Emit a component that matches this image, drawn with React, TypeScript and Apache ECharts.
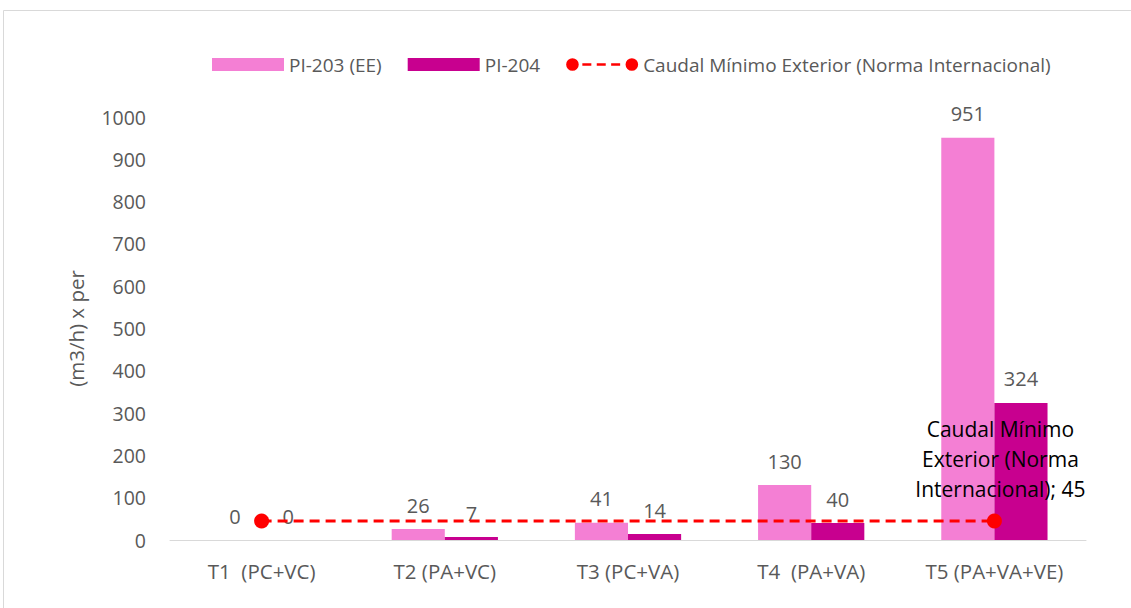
import React, { useEffect, useRef } from "react";
import * as echarts from "echarts";

const categories = ["T1  (PC+VC)", "T2 (PA+VC)", "T3 (PC+VA)", "T4  (PA+VA)", "T5 (PA+VA+VE)"];
const pi203 = [0, 26, 41, 130, 951];
const pi204 = [0, 7, 14, 40, 324];
const caudalMin = [45, 45, 45, 45, 45];
const seriesNames = ["PI-203 (EE)", "PI-204", "Caudal Mínimo Exterior (Norma Internacional)"];
const yAxisName = "(m3/h) x per";

const FONT = "'Open Sans', 'Noto Sans', sans-serif";
const GREY = "#595959";
const PINK = "#F47FD4";
const PURPLE = "#C8008F";
const RED = "#FF0000";

const legendLineIcon =
  "path://M0,7 A7,7 0 1,0 14,7 A7,7 0 1,0 0,7 Z M18,5.5 h10 v3 h-10 Z M34,5.5 h10 v3 h-10 Z M50,5.5 h10 v3 h-10 Z M66,7 A7,7 0 1,0 80,7 A7,7 0 1,0 66,7 Z";

export default function App() {
  const ref = useRef<HTMLDivElement>(null);
  useEffect(() => {
    const chart = echarts.init(ref.current!, null, { renderer: "svg" });
    const last = caudalMin.length - 1;
    chart.setOption({
      animation: false,
      backgroundColor: "#ffffff",
      textStyle: { fontFamily: FONT },
      graphic: [
        {
          type: "rect",
          shape: { x: 3.5, y: 10.5, width: 1140, height: 620 },
          style: { fill: "none", stroke: "#d9d9d9", lineWidth: 1 },
          silent: true,
        },
      ],
      legend: {
        left: 207,
        top: 50,
        itemGap: 26,
        itemWidth: 72,
        itemHeight: 13,
        textStyle: { color: GREY, fontSize: 19, fontFamily: FONT },
        data: [
          { name: seriesNames[0], icon: "rect" },
          { name: seriesNames[1], icon: "rect" },
          { name: seriesNames[2], icon: legendLineIcon, itemStyle: { color: RED } },
        ],
      },
      grid: { left: 170, right: 45, top: 117, bottom: 68, containLabel: false },
      xAxis: {
        type: "category",
        data: categories,
        axisLine: { show: true, lineStyle: { color: "#d9d9d9", width: 1 } },
        axisTick: { show: false },
        axisLabel: { color: GREY, fontSize: 20.5, margin: 20, fontFamily: FONT },
      },
      yAxis: {
        type: "value",
        min: 0,
        max: 1000,
        interval: 100,
        name: yAxisName,
        nameLocation: "middle",
        nameRotate: 90,
        nameGap: 84,
        nameTextStyle: { color: GREY, fontSize: 20.5, fontFamily: FONT },
        splitLine: { show: false },
        axisLine: { show: false },
        axisTick: { show: false },
        axisLabel: { color: GREY, fontSize: 19.5, margin: 24, fontFamily: FONT, formatter: (v: number) => String(v) },
      },
      series: [
        {
          name: seriesNames[0],
          type: "bar",
          data: pi203,
          barWidth: "29%",
          barGap: "0%",
          itemStyle: { color: PINK },
          label: { show: true, position: "top", color: GREY, fontSize: 20, distance: 14, fontFamily: FONT },
        },
        {
          name: seriesNames[1],
          type: "bar",
          data: pi204,
          barWidth: "29%",
          itemStyle: { color: PURPLE },
          label: { show: true, position: "top", color: GREY, fontSize: 20, distance: 14, fontFamily: FONT },
        },
        {
          name: seriesNames[2],
          type: "line",
          data: caudalMin.map((v, i) => ({
            value: v,
            symbolSize: i === 0 || i === last ? 15 : 0,
            label:
              i === last
                ? {
                    show: true,
                    position: "top",
                    distance: 9,
                    offset: [6, 0],
                    formatter: "Caudal Mínimo\nExterior (Norma\nInternacional); {c}",
                    color: "#000000",
                    fontSize: 21,
                    lineHeight: 30,
                    align: "center",
                    fontFamily: FONT,
                  }
                : { show: false },
          })),
          symbol: "circle",
          showSymbol: true,
          z: 5,
          lineStyle: { color: RED, width: 3, type: [10, 6] },
          itemStyle: { color: RED },
        },
      ],
    });
    return () => chart.dispose();
  }, []);
  return (
    <div
      ref={ref}
      style={{ position: "absolute", left: 0, top: 0, width: 1131, height: 608 }}
    />
  );
}
